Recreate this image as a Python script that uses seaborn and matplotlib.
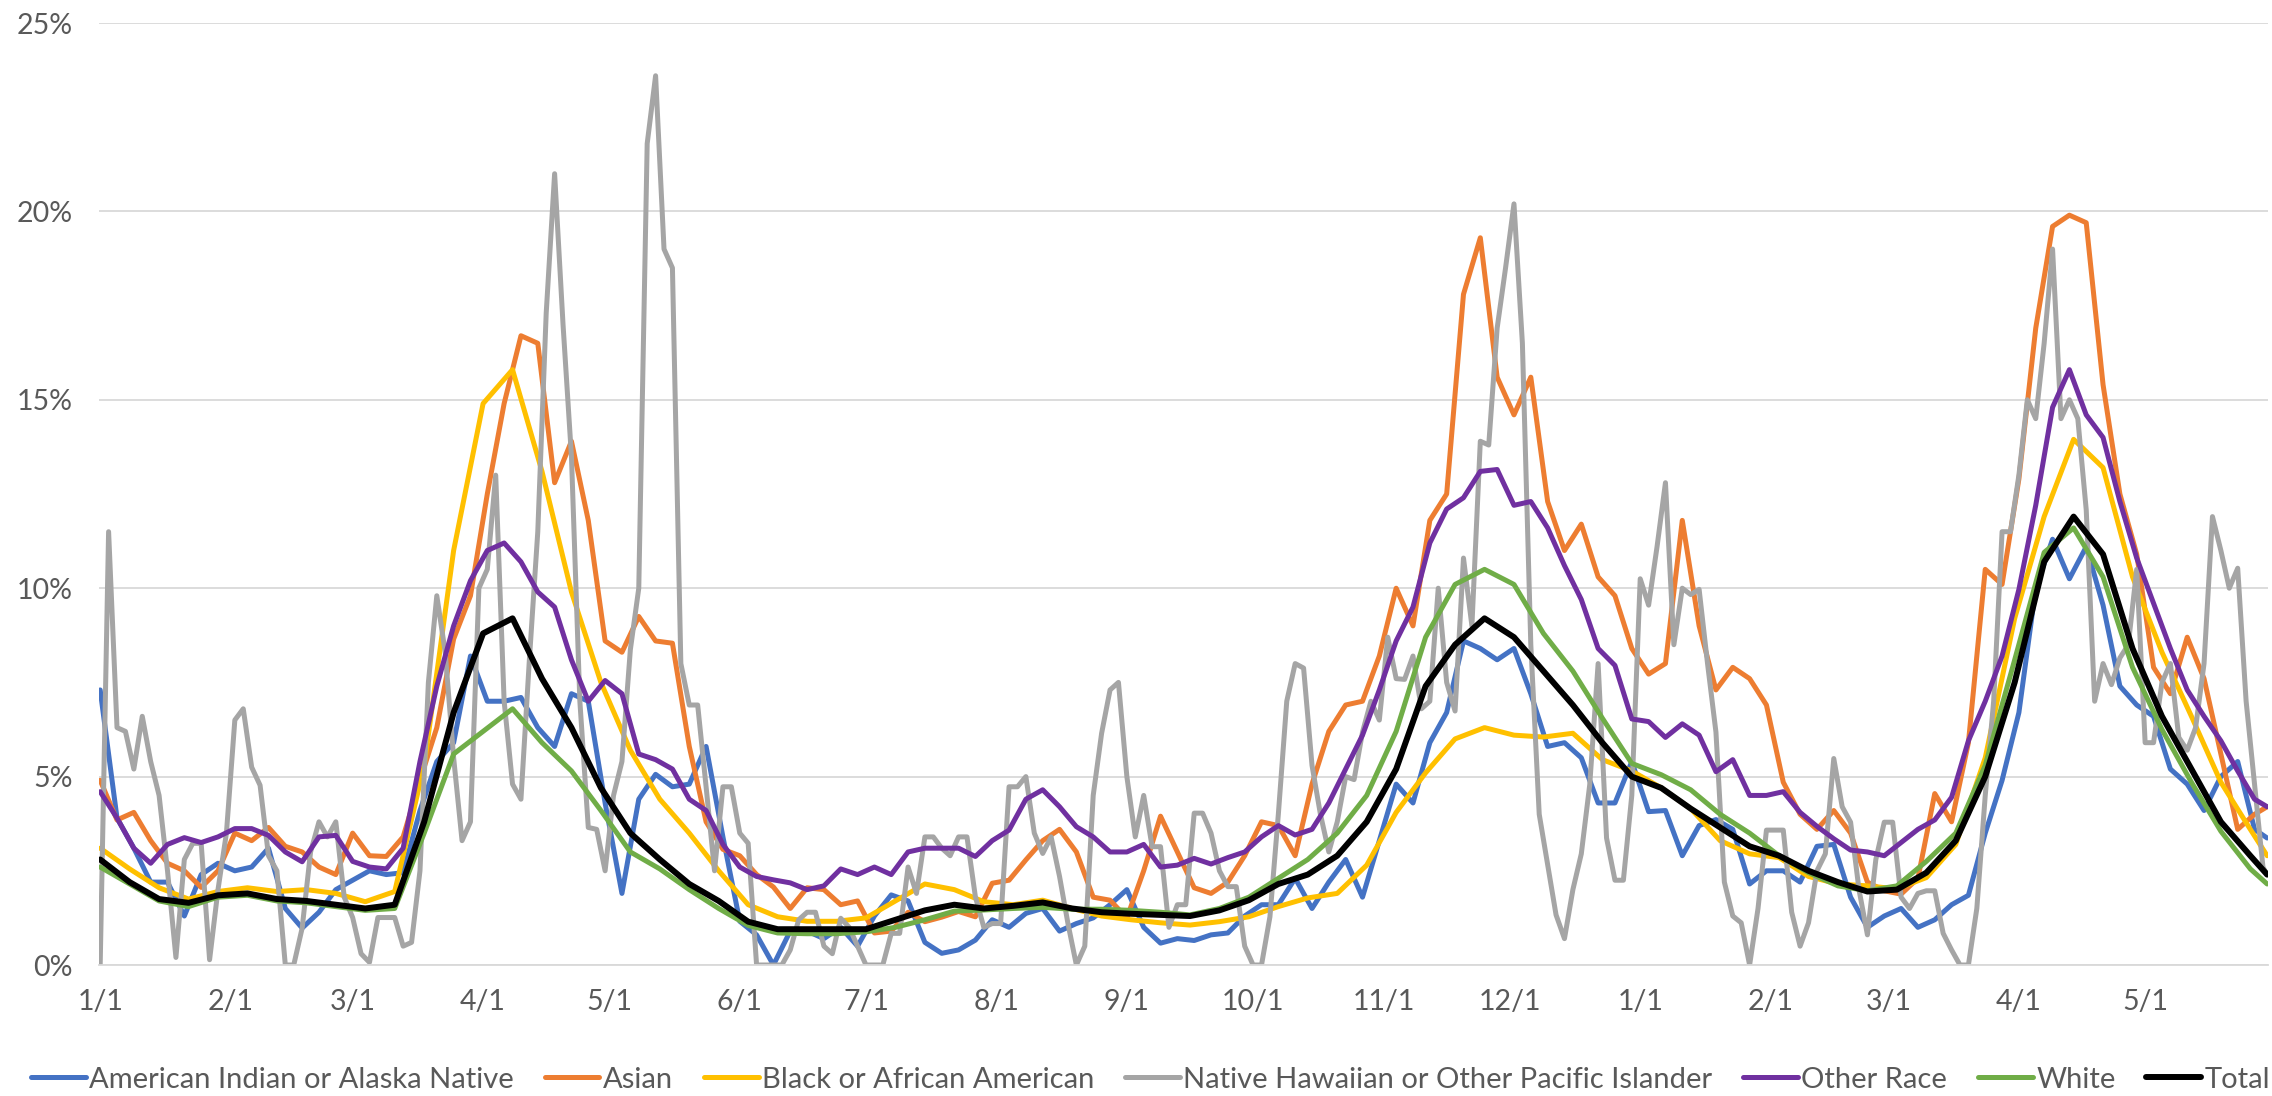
import numpy as np
import pandas as pd
import matplotlib
matplotlib.use("Agg")
import matplotlib.pyplot as plt
import matplotlib.dates as mdates
from matplotlib.ticker import FuncFormatter
from matplotlib.lines import Line2D
import seaborn as sns

# ---------------------------------------------------------------------------
# Data: daily positivity (%) sampled on three day grids counted from 1/1/2020
# ---------------------------------------------------------------------------
START = pd.Timestamp("2020-01-01")

weekly_days = np.r_[np.arange(0, 512, 7), 515]   # smooth series
noisy_days = np.r_[np.arange(0, 513, 4), 515]    # noisier series
nhpi_days = np.r_[np.arange(0, 515, 2), 515]     # very noisy small group

total = [
    2.8, 2.2, 1.75, 1.65, 1.85, 1.9, 1.75, 1.7,
    1.6, 1.5, 1.6, 3.8, 6.7, 8.8, 9.2, 7.6,
    6.3, 4.7, 3.5, 2.8, 2.15, 1.7, 1.15, 0.95,
    0.95, 0.95, 0.95, 1.2, 1.45, 1.6, 1.5, 1.57,
    1.66, 1.5, 1.4, 1.36, 1.33, 1.3, 1.45, 1.72,
    2.15, 2.4, 2.9, 3.8, 5.2, 7.4, 8.5, 9.2,
    8.7, 7.8, 6.9, 5.9, 5.0, 4.7, 4.15, 3.65,
    3.15, 2.9, 2.5, 2.2, 1.95, 2.0, 2.45, 3.3,
    5.0, 7.5, 10.7, 11.9, 10.9, 8.4, 6.6, 5.2,
    3.8, 2.9, 2.4,
]

white = [
    2.6, 2.15, 1.7, 1.55, 1.8, 1.85, 1.7, 1.65,
    1.55, 1.45, 1.5, 3.5, 5.6, 6.2, 6.8, 5.9,
    5.15, 4.1, 3.0, 2.55, 2.0, 1.5, 1.05, 0.85,
    0.83, 0.83, 0.88, 1.0, 1.2, 1.43, 1.46, 1.5,
    1.53, 1.48, 1.48, 1.45, 1.4, 1.33, 1.5, 1.8,
    2.3, 2.8, 3.5, 4.5, 6.2, 8.7, 10.1, 10.5,
    10.1, 8.8, 7.8, 6.55, 5.35, 5.05, 4.65, 4.0,
    3.5, 2.9, 2.45, 2.1, 1.97, 2.1, 2.75, 3.5,
    5.3, 8.1, 10.95, 11.6, 10.3, 7.9, 6.25, 4.85,
    3.55, 2.55, 2.15,
]

black_aa = [
    3.1, 2.55, 2.05, 1.75, 1.95, 2.05, 1.95, 2.0,
    1.9, 1.68, 1.95, 5.3, 11.0, 14.9, 15.8, 13.1,
    9.9, 7.5, 5.7, 4.4, 3.5, 2.5, 1.6, 1.28,
    1.16, 1.16, 1.25, 1.7, 2.15, 2.0, 1.68, 1.6,
    1.72, 1.5, 1.3, 1.2, 1.12, 1.06, 1.15, 1.28,
    1.55, 1.78, 1.9, 2.65, 4.05, 5.1, 6.0, 6.3,
    6.1, 6.05, 6.15, 5.45, 5.15, 4.7, 4.15, 3.3,
    2.95, 2.85, 2.35, 2.15, 2.1, 2.02, 2.32, 3.2,
    5.5, 9.2, 11.9, 13.95, 13.2, 10.3, 8.3, 6.6,
    4.85, 3.6, 2.9,
]

other_race = [
    4.6, 3.9, 3.1, 2.7, 3.2, 3.38, 3.25, 3.4,
    3.62, 3.62, 3.44, 3.0, 2.74, 3.4, 3.44, 2.75,
    2.6, 2.55, 3.1, 5.4, 7.4, 9.0, 10.2, 11.0,
    11.2, 10.7, 9.9, 9.5, 8.1, 7.0, 7.55, 7.2,
    5.6, 5.45, 5.2, 4.4, 4.1, 3.2, 2.6, 2.35,
    2.26, 2.18, 2.0, 2.1, 2.55, 2.4, 2.6, 2.4,
    3.0, 3.1, 3.1, 3.1, 2.88, 3.3, 3.58, 4.4,
    4.65, 4.2, 3.67, 3.4, 3.0, 3.0, 3.2, 2.6,
    2.65, 2.83, 2.68, 2.85, 3.0, 3.4, 3.7, 3.45,
    3.6, 4.3, 5.2, 6.1, 7.3, 8.6, 9.5, 11.2,
    12.1, 12.4, 13.1, 13.15, 12.2, 12.3, 11.6, 10.6,
    9.7, 8.4, 7.95, 6.53, 6.46, 6.04, 6.4, 6.1,
    5.13, 5.45, 4.5, 4.5, 4.6, 4.05, 3.68, 3.35,
    3.05, 3.0, 2.9, 3.25, 3.6, 3.85, 4.45, 5.95,
    7.0, 8.2, 9.97, 12.2, 14.8, 15.8, 14.6, 14.0,
    12.3, 10.8, 9.6, 8.4, 7.3, 6.6, 5.95, 5.15,
    4.4, 4.2,
]

asian = [
    4.9, 3.85, 4.05, 3.3, 2.7, 2.5, 2.06, 2.5,
    3.5, 3.3, 3.65, 3.15, 3.0, 2.6, 2.4, 3.5,
    2.9, 2.88, 3.4, 4.9, 6.3, 8.65, 9.8, 12.5,
    14.9, 16.7, 16.5, 12.8, 13.9, 11.8, 8.6, 8.3,
    9.25, 8.6, 8.54, 5.8, 3.8, 3.07, 2.9, 2.4,
    2.07, 1.5, 2.05, 2.0, 1.6, 1.7, 0.85, 0.9,
    1.4, 1.15, 1.27, 1.42, 1.28, 2.17, 2.25, 2.79,
    3.3, 3.6, 3.0, 1.8, 1.72, 1.25, 2.5, 3.95,
    3.0, 2.05, 1.9, 2.2, 2.9, 3.8, 3.7, 2.9,
    4.8, 6.2, 6.9, 7.0, 8.2, 10.0, 9.0, 11.8,
    12.5, 17.8, 19.3, 15.6, 14.6, 15.6, 12.3, 11.0,
    11.7, 10.3, 9.8, 8.4, 7.72, 8.0, 11.8, 9.0,
    7.3, 7.9, 7.6, 6.9, 4.85, 4.0, 3.6, 4.1,
    3.5, 2.2, 1.97, 1.88, 2.3, 4.55, 3.8, 5.9,
    10.5, 10.1, 12.9, 16.9, 19.6, 19.9, 19.7, 15.4,
    12.5, 10.9, 7.9, 7.2, 8.7, 7.6, 5.6, 3.6,
    4.0, 4.2,
]

aian = [
    7.3, 3.9, 3.1, 2.2, 2.2, 1.3, 2.4, 2.7,
    2.5, 2.6, 3.1, 1.5, 0.98, 1.4, 2.0, 2.25,
    2.5, 2.4, 2.45, 4.1, 5.4, 5.9, 8.2, 7.0,
    7.0, 7.1, 6.3, 5.8, 7.2, 7.0, 4.3, 1.9,
    4.4, 5.06, 4.73, 4.8, 5.8, 3.4, 1.16, 0.8,
    0.0, 0.9, 0.9, 0.7, 1.0, 0.5, 1.3, 1.86,
    1.7, 0.6, 0.31, 0.4, 0.66, 1.2, 1.0, 1.37,
    1.5, 0.9, 1.1, 1.25, 1.6, 2.0, 1.0, 0.58,
    0.7, 0.65, 0.8, 0.85, 1.3, 1.6, 1.6, 2.3,
    1.5, 2.2, 2.8, 1.8, 3.3, 4.8, 4.3, 5.9,
    6.7, 8.6, 8.4, 8.1, 8.4, 7.2, 5.8, 5.9,
    5.5, 4.3, 4.3, 5.4, 4.07, 4.1, 2.9, 3.7,
    3.86, 3.6, 2.15, 2.5, 2.5, 2.2, 3.15, 3.2,
    1.8, 1.0, 1.3, 1.5, 1.0, 1.2, 1.6, 1.85,
    3.5, 4.9, 6.7, 10.0, 11.3, 10.25, 11.1, 9.55,
    7.4, 6.9, 6.6, 5.2, 4.8, 4.1, 5.0, 5.4,
    3.6, 3.37,
]

nhpi = [
    0.0, 11.5, 6.3, 6.2, 5.2, 6.6, 5.4, 4.5, 2.5, 0.2,
    2.8, 3.23, 3.23, 0.14, 2.0, 3.5, 6.5, 6.8, 5.25, 4.77,
    2.9, 2.5, 0.0, 0.0, 0.98, 3.0, 3.8, 3.4, 3.8, 1.8,
    1.26, 0.3, 0.07, 1.26, 1.26, 1.26, 0.5, 0.6, 2.5, 7.5,
    9.8, 8.3, 5.5, 3.3, 3.8, 10.0, 10.5, 13.0, 7.0, 4.8,
    4.4, 8.1, 11.5, 17.3, 21.0, 17.0, 13.5, 7.0, 3.65, 3.6,
    2.5, 4.5, 5.4, 8.37, 10.0, 21.8, 23.6, 19.0, 18.5, 8.0,
    6.9, 6.9, 4.73, 2.5, 4.73, 4.73, 3.5, 3.23, 0.0, 0.0,
    0.0, 0.0, 0.4, 1.2, 1.4, 1.4, 0.5, 0.3, 1.24, 1.0,
    0.5, 0.0, 0.0, 0.0, 0.84, 0.84, 2.6, 1.9, 3.4, 3.4,
    3.1, 2.9, 3.4, 3.4, 1.81, 1.0, 1.1, 1.1, 4.73, 4.73,
    5.0, 3.5, 2.96, 3.4, 2.35, 1.1, 0.0, 0.5, 4.5, 6.15,
    7.3, 7.5, 5.0, 3.4, 4.5, 3.14, 3.14, 1.0, 1.6, 1.6,
    4.03, 4.03, 3.5, 2.5, 2.08, 2.08, 0.5, 0.0, 0.0, 1.28,
    4.0, 7.0, 8.0, 7.88, 5.3, 4.0, 3.0, 3.8, 5.0, 4.92,
    6.18, 7.0, 6.5, 8.7, 7.6, 7.58, 8.2, 6.8, 7.0, 10.0,
    7.5, 6.74, 10.8, 9.0, 13.9, 13.8, 16.9, 18.5, 20.2, 16.5,
    8.5, 4.0, 2.67, 1.33, 0.7, 2.0, 2.95, 4.78, 8.0, 3.37,
    2.25, 2.25, 4.5, 10.25, 9.55, 11.1, 12.8, 8.5, 10.0, 9.83,
    9.97, 8.0, 6.18, 2.2, 1.3, 1.12, 0.0, 1.5, 3.58, 3.58,
    3.58, 1.4, 0.5, 1.12, 2.5, 2.95, 5.48, 4.2, 3.79, 2.0,
    0.8, 2.8, 3.79, 3.79, 1.8, 1.5, 1.9, 1.97, 1.97, 0.84,
    0.4, 0.0, 0.0, 1.5, 4.5, 7.0, 11.5, 11.5, 13.0, 15.0,
    14.5, 16.5, 19.0, 14.5, 15.0, 14.5, 12.08, 7.0, 8.0, 7.44,
    8.15, 8.5, 10.5, 5.9, 5.9, 7.5, 8.0, 6.04, 5.7, 6.3,
    8.0, 11.9, 11.0, 10.0, 10.53, 7.0, 4.8, 2.6,
    2.39,
]

series_labels = [
    "American Indian or Alaska Native",
    "Asian",
    "Black or African American",
    "Native Hawaiian or Other Pacific Islander",
    "Other Race",
    "White",
    "Total",
]
series_values = [aian, asian, black_aa, nhpi, other_race, white, total]
series_days = [noisy_days, noisy_days, weekly_days, nhpi_days,
               noisy_days, weekly_days, weekly_days]
series_colors = ["#4472C4", "#ED7D31", "#FFC000", "#A5A5A5",
                 "#7030A0", "#70AD47", "#000000"]
series_widths = [3.6, 3.6, 3.6, 3.6, 3.6, 3.6, 4.3]

y_ticks = [0, 5, 10, 15, 20, 25]

# ---------------------------------------------------------------------------
# Figure
# ---------------------------------------------------------------------------
sns.set_style("white")
plt.rcParams["font.family"] = ["Lato", "DejaVu Sans"]
TEXT = "#595959"
GRID = "#D9D9D9"
FS_TICK = 20.5
FS_LEGEND = 21

W, H = 2272, 1096
fig = plt.figure(figsize=(W / 100, H / 100), dpi=100)
fig.patch.set_facecolor("white")
ax = fig.add_axes([98.5 / W, 131 / H, (2268 - 98.5) / W, (1073 - 131) / H])

for days, vals, col, lw in zip(series_days, series_values,
                               series_colors, series_widths):
    dates = START + pd.to_timedelta(days, unit="D")
    sns.lineplot(x=dates, y=vals, ax=ax, color=col, linewidth=lw,
                 legend=False, sort=False,
                 solid_joinstyle="round", solid_capstyle="round")

ax.set_xlim(START - pd.Timedelta(days=0.4), START + pd.Timedelta(days=515.2))
ax.set_ylim(0, 25)
ax.set_yticks(y_ticks)
ax.yaxis.set_major_formatter(FuncFormatter(lambda v, p: f"{v:.0f}%"))

ax.xaxis.set_major_locator(mdates.MonthLocator(bymonthday=1))


def month_label(x, pos):
    d = mdates.num2date(x)
    return f"{d.month}/{d.day}"


ax.xaxis.set_major_formatter(FuncFormatter(month_label))
ax.set_xlabel("")
ax.set_ylabel("")

ax.yaxis.grid(True, color=GRID, linewidth=1.3)
ax.xaxis.grid(False)
ax.set_axisbelow(True)
for side in ("top", "left", "right"):
    ax.spines[side].set_visible(False)
ax.spines["bottom"].set_color(GRID)
ax.spines["bottom"].set_linewidth(1.3)

ax.tick_params(axis="x", length=10, width=1.3, color=GRID, direction="out",
               pad=7, labelsize=FS_TICK, labelcolor=TEXT)
ax.tick_params(axis="y", length=0, pad=18.5, labelsize=FS_TICK,
               labelcolor=TEXT)

handles = [Line2D([0], [0], color=c, linewidth=lw)
           for c, lw in zip(series_colors, series_widths)]
fig.legend(handles, series_labels, loc="center",
           bbox_to_anchor=(1150.5 / W, 16.5 / H), ncol=7, frameon=False,
           fontsize=FS_LEGEND, handlelength=1.88, handletextpad=0.12,
           columnspacing=1.05, labelcolor=TEXT, borderaxespad=0,
           borderpad=0)

fig.savefig("out.png", dpi=100)
